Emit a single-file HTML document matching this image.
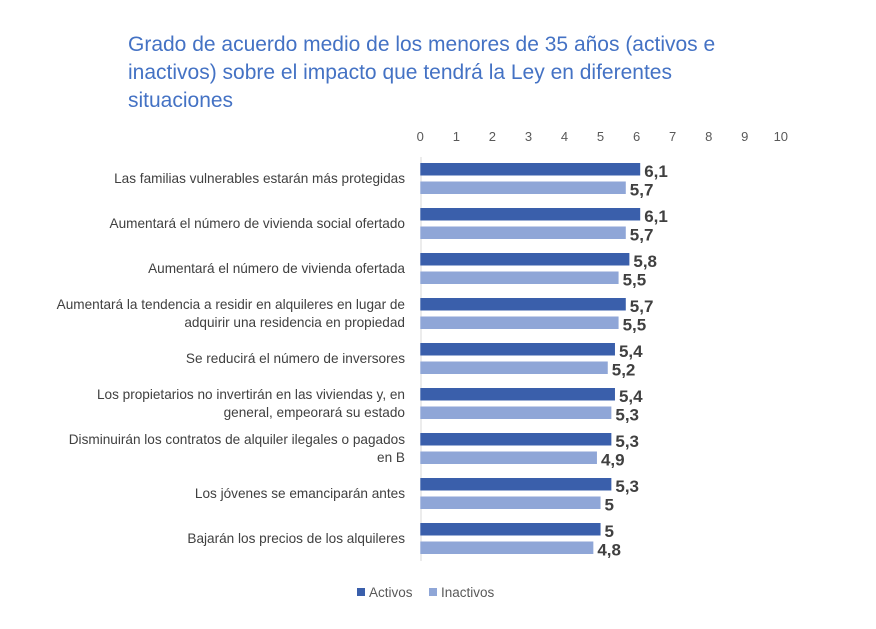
<!DOCTYPE html>
<html><head><meta charset="utf-8"><style>
body{margin:0;background:#fff;font-family:"Liberation Sans",sans-serif}
#c{position:relative;width:876px;height:629px;overflow:hidden}
.title{position:absolute;left:128px;top:31px;font-size:21px;line-height:28px;color:#4472C4;width:615px}
</style></head><body>
<div id="c">
<div class="title">Grado de acuerdo medio de los menores de 35 años (activos e inactivos) sobre el impacto que tendrá la Ley en diferentes situaciones</div>
<svg id="s" width="876" height="629" style="position:absolute;left:0;top:0"></svg>
</div>
<script>
const categories=[["Las familias vulnerables estarán más protegidas"],["Aumentará el número de vivienda social ofertado"],["Aumentará el número de vivienda ofertada"],["Aumentará la tendencia a residir en alquileres en lugar de","adquirir una residencia en propiedad"],["Se reducirá el número de inversores"],["Los propietarios no invertirán en las viviendas y, en","general, empeorará su estado"],["Disminuirán los contratos de alquiler ilegales o pagados","en B"],["Los jóvenes se emanciparán antes"],["Bajarán los precios de los alquileres"]];
const activos=[6.1,6.1,5.8,5.7,5.4,5.4,5.3,5.3,5];
const inactivos=[5.7,5.7,5.5,5.5,5.2,5.3,4.9,5,4.8];
const ticks=[0,1,2,3,4,5,6,7,8,9,10];
const NS="http://www.w3.org/2000/svg";
const svg=document.getElementById('s');
const x=v=>420.3+v*36.05;
const y=i=>163+i*45;
function mk(t,a){const e=document.createElementNS(NS,t);for(const k in a)e.setAttribute(k,a[k]);svg.appendChild(e);return e;}
const fmt=v=>String(v).replace('.',',');
ticks.forEach(t=>{const e=mk('text',{x:x(t),y:141,'text-anchor':'middle','font-size':13,fill:'#595959'});e.textContent=t;

});
const ax=mk('line',{x1:421,x2:421,y1:157,y2:561,stroke:'#d9d9d9','stroke-width':1});


categories.forEach((c,i)=>{
 const b1=mk('rect',{x:x(0),y:y(i),width:x(activos[i])-x(0),height:12.5,fill:'#3A5FAB'});
 
 
 const b2=mk('rect',{x:x(0),y:y(i)+18.5,width:x(inactivos[i])-x(0),height:12.5,fill:'#8FA6D7'});
 
 
 const l1=mk('text',{x:x(activos[i])+4,y:y(i)+14,'font-size':17,'font-weight':'bold',fill:'#404040'});l1.textContent=fmt(activos[i]);
 
 
 const l2=mk('text',{x:x(inactivos[i])+4,y:y(i)+32.5,'font-size':17,'font-weight':'bold',fill:'#404040'});l2.textContent=fmt(inactivos[i]);
 
 
 const n=c.length;
 c.forEach((line,j)=>{const t=mk('text',{x:405,y:y(i)+20-(n-1)*9+j*18,'text-anchor':'end','font-size':13.6,fill:'#404040'});t.textContent=line;
 
 });
});
[["Activos","#3A5FAB",357],["Inactivos","#8FA6D7",429]].forEach(l=>{
 const r=mk('rect',{x:l[2],y:588,width:8,height:8,fill:l[1]});
 
 
 const t=mk('text',{x:l[2]+12,y:597,'font-size':13.5,fill:'#595959'});t.textContent=l[0];
 
 
});
</script>
</body></html>
